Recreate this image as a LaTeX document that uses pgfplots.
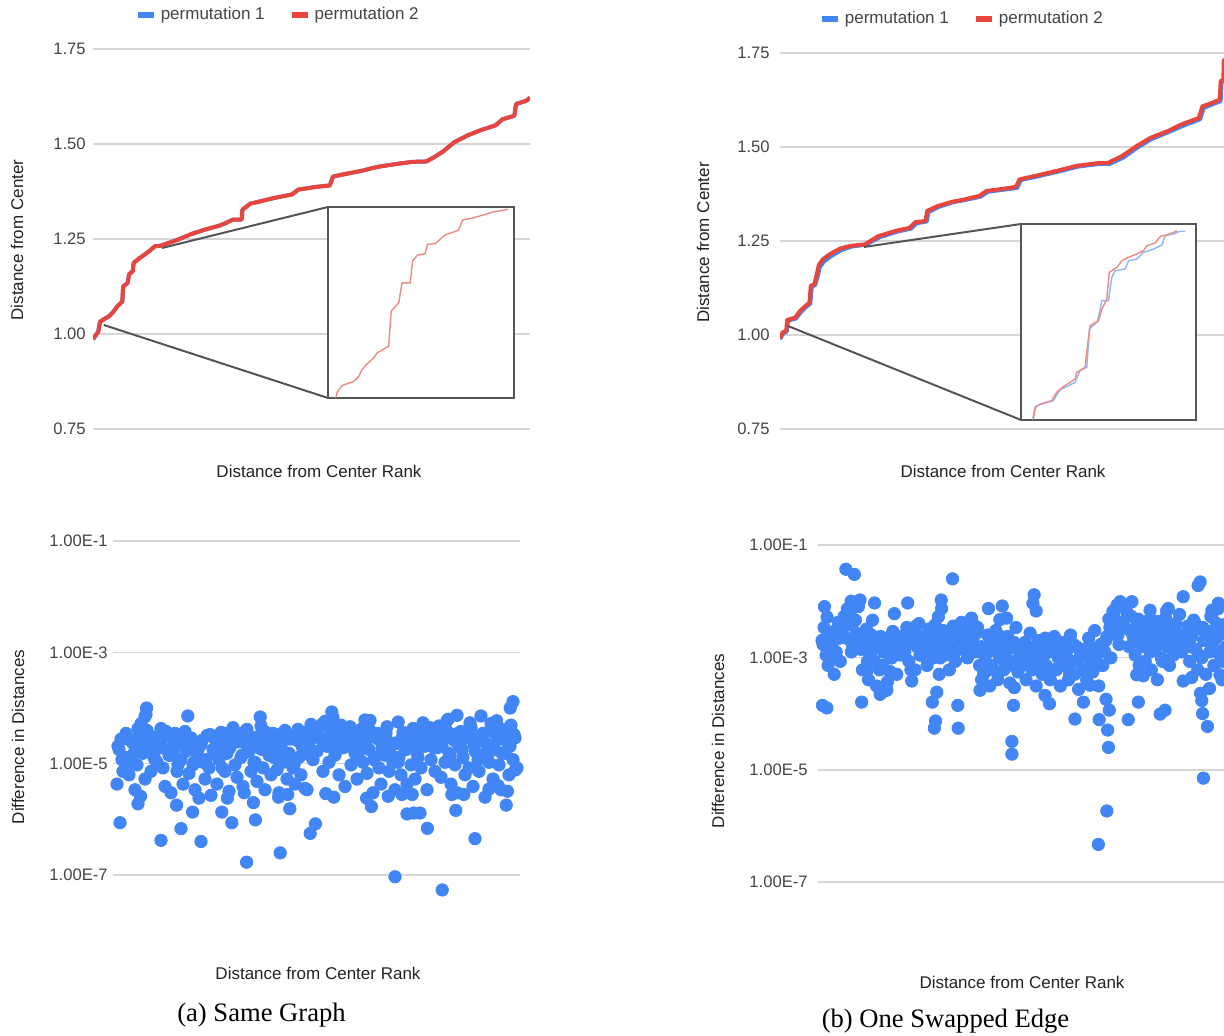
\documentclass[border=0pt]{standalone}
\usepackage{fontspec}
\setmainfont{Liberation Sans}
\newfontfamily\capfont{Liberation Serif}
\usepackage{pgfplots}
\pgfplotsset{compat=1.18}
\definecolor{gblue}{HTML}{4285F4}
\definecolor{gred}{HTML}{E8453C}
\definecolor{gridc}{HTML}{D6D6D6}
\definecolor{tickc}{HTML}{444444}
\definecolor{titlec}{HTML}{222222}
\definecolor{boxc}{HTML}{555555}
\definecolor{ired}{HTML}{EE8A84}
\definecolor{iblue}{HTML}{8FB6F8}
\pgfplotsset{
  gbase/.style={
    scale only axis, anchor=south west,
    axis line style={draw=none},
    major tick length=0pt,
    xtick=\empty,
    ymajorgrids, grid style={gridc, line width=0.8pt},
    tick label style={font=\fontsize{8.3}{10}\selectfont, text=tickc, /pgf/number format/assume math mode=true},
  },
  linebase/.style={
    gbase, xmin=0, xmax=100, ymin=0.75, ymax=1.75,
    ytick={0.75,1,1.25,1.5,1.75},
    yticklabel style={/pgf/number format/fixed, /pgf/number format/fixed zerofill, /pgf/number format/precision=2},
    legend columns=2,
    legend image code/.code={\draw[##1, line width=3pt] (0pt,0pt) -- (8pt,0pt);},
    legend style={draw=none, fill=none, font=\fontsize{8.5}{10}\selectfont, text=tickc,
      /tikz/every even column/.append style={column sep=10pt}},
  },
  scatbase/.style={
    gbase, ymin=1e-8, ymax=1e-1, clip=false,
    ytick={1e-7,1e-5,1e-3,1e-1},
    yticklabels={1.00E-7,1.00E-5,1.00E-3,1.00E-1},
  },
  inset/.style={
    scale only axis, anchor=south west, xmin=0, xmax=1, ymin=0, ymax=1,
    ticks=none, axis background/.style={fill=white},
    axis line style={boxc, line width=1.2pt},
  },
  dots/.style={only marks, mark=*, mark size=3.1pt, gblue},
}
\begin{document}
\begin{tikzpicture}
\path[use as bounding box] (0,0) rectangle (612pt,518pt);

% ---------------- top left ----------------
\begin{axis}[linebase, at={(46.5pt,303.5pt)}, width=218.5pt, height=190pt,
  yticklabel style={inner sep=0pt, xshift=-3.5pt},
  legend style={at={(axis description cs:0.425,1.0895)}, anchor=center}]
\addplot[gblue, line width=2pt, line join=round] coordinates {
(0,0.986) (1.2,1.006) (1.6,1.032) (2.8,1.041) (3.6,1.046) (4.7,1.059) (5.5,1.072) (6.7,1.085) (6.9,1.125) (7.9,1.134) (8.3,1.158) (9.1,1.165) (9.3,1.187) (10.7,1.200) (12.3,1.213) (14.2,1.231) (15.4,1.232) (19.4,1.248) (22.5,1.263) (25.7,1.275) (28.9,1.285) (30.4,1.292) (32.0,1.301) (34.0,1.301) (34.2,1.327) (36.0,1.343) (38.3,1.349) (41.5,1.358) (45.5,1.367) (47.0,1.380) (51.0,1.387) (54.2,1.391) (54.9,1.414) (57.3,1.420) (61.3,1.429) (65.2,1.440) (69.2,1.447) (73.1,1.453) (76.3,1.454) (77.9,1.464) (80.2,1.481) (82.6,1.504) (85.8,1.523) (88.9,1.537) (92.1,1.549) (93.7,1.565) (96.4,1.574) (96.8,1.605) (99.2,1.614) (100,1.622)};
\addlegendentry{permutation 1}
\addplot[gred, line width=2pt, line join=round] coordinates {
(0,0.986) (1.2,1.006) (1.6,1.032) (2.8,1.041) (3.6,1.046) (4.7,1.059) (5.5,1.072) (6.7,1.085) (6.9,1.125) (7.9,1.134) (8.3,1.158) (9.1,1.165) (9.3,1.187) (10.7,1.200) (12.3,1.213) (14.2,1.231) (15.4,1.232) (19.4,1.248) (22.5,1.263) (25.7,1.275) (28.9,1.285) (30.4,1.292) (32.0,1.301) (34.0,1.301) (34.2,1.327) (36.0,1.343) (38.3,1.349) (41.5,1.358) (45.5,1.367) (47.0,1.380) (51.0,1.387) (54.2,1.391) (54.9,1.414) (57.3,1.420) (61.3,1.429) (65.2,1.440) (69.2,1.447) (73.1,1.453) (76.3,1.454) (77.9,1.464) (80.2,1.481) (82.6,1.504) (85.8,1.523) (88.9,1.537) (92.1,1.549) (93.7,1.565) (96.4,1.574) (96.8,1.605) (99.2,1.614) (100,1.622)};
\addlegendentry{permutation 2}
\end{axis}
\draw[boxc, line width=1pt] (81pt,394pt) -- (164pt,414.5pt);
\draw[boxc, line width=1pt] (51.9pt,355.5pt) -- (164pt,319pt);
\begin{axis}[inset, at={(164pt,319pt)}, width=93pt, height=95.5pt]
\addplot[ired, line width=0.7pt] coordinates {
(0.041,0) (0.050,0.031) (0.077,0.066) (0.139,0.087) (0.166,0.114) (0.183,0.149) (0.210,0.178) (0.246,0.210) (0.264,0.236) (0.326,0.271) (0.340,0.455) (0.380,0.498) (0.398,0.603) (0.442,0.603) (0.455,0.717) (0.481,0.748) (0.522,0.755) (0.535,0.804) (0.576,0.808) (0.629,0.853) (0.701,0.878) (0.724,0.932) (0.772,0.941) (0.834,0.958) (0.888,0.974) (0.968,0.988)};
\end{axis}

% ---------------- top right ----------------
\begin{axis}[linebase, at={(390pt,303.5pt)}, width=223pt, height=188pt,
  yticklabel style={inner sep=0pt, xshift=-5pt},
  legend style={at={(axis description cs:0.41,1.0904)}, anchor=center}]
\addplot[gblue, line width=2pt, line join=round] coordinates {
(0,0.989) (0.7,1.004) (1.5,1.009) (1.8,1.038) (3.6,1.044) (4.7,1.061) (5.9,1.075) (6.8,1.083) (7.1,1.128) (7.9,1.133) (8.5,1.158) (8.9,1.180) (9.9,1.196) (11.5,1.210) (13.8,1.226) (16.0,1.235) (19.2,1.240) (22.4,1.260) (26.3,1.275) (29.4,1.283) (30.6,1.297) (32.9,1.302) (33.3,1.327) (35.7,1.341) (38.8,1.353) (41.9,1.360) (45.0,1.368) (46.6,1.381) (50.5,1.387) (53.2,1.391) (54.0,1.412) (57.5,1.421) (62.2,1.434) (66.9,1.448) (71.6,1.455) (73.9,1.455) (77.0,1.472) (80.2,1.499) (83.3,1.521) (87.2,1.540) (90.3,1.556) (94.2,1.574) (95.0,1.604) (96.9,1.613) (98.8,1.622) (99.0,1.672) (99.6,1.677) (99.7,1.729) (100,1.731)};
\addlegendentry{permutation 1}
\addplot[gred, line width=2pt, line join=round] coordinates {
(0,0.991) (0.6,1.007) (1.4,1.011) (1.6,1.040) (3.4,1.046) (4.5,1.064) (5.7,1.077) (6.6,1.086) (6.9,1.131) (7.7,1.135) (8.3,1.164) (8.7,1.186) (9.6,1.201) (11.2,1.215) (13.5,1.230) (15.8,1.237) (19.0,1.241) (22.1,1.263) (26.0,1.277) (29.1,1.285) (30.3,1.300) (32.6,1.303) (33.0,1.330) (35.4,1.343) (38.5,1.354) (41.6,1.361) (44.7,1.370) (46.3,1.383) (50.2,1.389) (52.9,1.394) (53.7,1.414) (57.2,1.423) (61.9,1.436) (66.6,1.450) (71.3,1.457) (73.6,1.458) (76.7,1.476) (79.9,1.502) (83.0,1.524) (86.9,1.542) (90.0,1.560) (93.9,1.577) (94.7,1.608) (96.6,1.616) (98.6,1.626) (98.8,1.675) (99.4,1.679) (99.5,1.731) (100,1.732)};
\addlegendentry{permutation 2}
\end{axis}
\draw[boxc, line width=1pt] (432pt,394.5pt) -- (510.5pt,406pt);
\draw[boxc, line width=1pt] (394pt,355pt) -- (510.5pt,308pt);
\begin{axis}[inset, at={(510.5pt,308pt)}, width=87.5pt, height=98pt]
\addplot[iblue, line width=0.7pt] coordinates {
(0.067,0.002) (0.074,0.039) (0.090,0.073) (0.185,0.099) (0.223,0.155) (0.271,0.175) (0.309,0.192) (0.338,0.252) (0.376,0.269) (0.391,0.464) (0.437,0.502) (0.462,0.609) (0.500,0.609) (0.519,0.728) (0.538,0.762) (0.595,0.770) (0.615,0.813) (0.662,0.821) (0.700,0.855) (0.758,0.872) (0.805,0.893) (0.824,0.940) (0.872,0.949) (0.901,0.961) (0.939,0.963)};
\addplot[ired, line width=0.7pt] coordinates {
(0.071,0.005) (0.080,0.065) (0.109,0.080) (0.176,0.099) (0.204,0.141) (0.242,0.170) (0.271,0.187) (0.309,0.209) (0.319,0.243) (0.366,0.269) (0.380,0.379) (0.395,0.481) (0.443,0.507) (0.462,0.566) (0.490,0.617) (0.504,0.753) (0.548,0.779) (0.576,0.813) (0.615,0.830) (0.662,0.847) (0.700,0.864) (0.719,0.889) (0.767,0.903) (0.796,0.937) (0.834,0.944) (0.872,0.957) (0.891,0.966)};
\end{axis}

% ---------------- bottom left ----------------
\begin{axis}[ymode=log, scatbase, at={(56.5pt,52.65pt)}, width=203.5pt, height=194.85pt,
  xmin=-1, xmax=100.75, yticklabel style={inner sep=0pt, xshift=-2.5pt}]
\addplot[dots] coordinates {
(0,0.43e-5)(0.5,1.8e-5)(1,2.76e-5)(1.5,0.73e-5)(2,1.30e-5)(2.5,2.90e-5)(3,0.63e-5)(3.5,1.06e-5)(4,2.33e-5)(4.5,0.34e-5)
(5,0.95e-5)(5.5,3.34e-5)(6,5.26e-5)(6.5,1.54e-5)(7,0.53e-5)(7.5,3.96e-5)(8,1.93e-5)(8.5,0.73e-5)(9,2.62e-5)(9.5,1.18e-5)
(10,1.06e-5)(10.5,2.06e-5)(11,4.28e-5)(11.5,0.84e-5)(12,0.39e-5)(12.5,3.05e-5)(13,1.42e-5)(13.5,0.30e-5)(14,1.67e-5)(14.5,3.5e-5)
(15,0.73e-5)(15.5,2.33e-5)(16,1.18e-5)(16.5,0.43e-5)(17,3.8e-5)(17.5,1.93e-5)(18,0.67e-5)(18.5,2.90e-5)(19,0.95e-5)(19.5,0.34e-5)
(20,1.54e-5)(20.5,0.24e-5)(21,2.2e-5)(21.5,1.06e-5)(22,0.53e-5)(22.5,3.19e-5)(23,0.84e-5)(23.5,0.27e-5)(24,1.8e-5)(24.5,2.76e-5)
(25,0.43e-5)(25.5,1.18e-5)(26,3.65e-5)(26.5,2.06e-5)(27,0.73e-5)(27.5,1.54e-5)(28,0.32e-5)(28.5,2.62e-5)(29,4.43e-5)(29.5,0.95e-5)
(30,0.57e-5)(30.5,3.34e-5)(31,1.30e-5)(31.5,0.39e-5)(32,2.33e-5)(32.5,4.12e-5)(33,1.67e-5)(33.5,0.73e-5)(34,2.90e-5)(34.5,1.06e-5)
(35,0.48e-5)(35.5,1.93e-5)(36,4.76e-5)(36.5,0.84e-5)(37,0.34e-5)(37.5,2.47e-5)(38,1.42e-5)(38.5,0.63e-5)(39,3.5e-5)(39.5,1.8e-5)
(40,0.78e-5)(40.5,0.30e-5)(41,2.06e-5)(41.5,1.06e-5)(42,3.96e-5)(42.5,0.53e-5)(43,1.54e-5)(43.5,3.05e-5)(44,0.84e-5)(44.5,0.43e-5)
(45,2.62e-5)(45.5,1.30e-5)(46,0.63e-5)(46.5,3.65e-5)(47,1.93e-5)(47.5,0.34e-5)(48,2.33e-5)(48.5,5.09e-5)(49,1.18e-5)(49.5,3.19e-5)
(50,1.67e-5)(50.5,4.43e-5)(51,2.76e-5)(51.5,0.73e-5)(52,5.77e-5)(52.5,2.06e-5)(53,1.06e-5)(53.5,3.5e-5)(54,6.8e-5)(54.5,1.42e-5)
(55,2.90e-5)(55.5,0.63e-5)(56,4.93e-5)(56.5,1.93e-5)(57,0.39e-5)(57.5,2.47e-5)(58,3.96e-5)(58.5,0.95e-5)(59,3.34e-5)(59.5,1.54e-5)
(60,0.53e-5)(60.5,2.2e-5)(61,4.12e-5)(61.5,1.06e-5)(62,6.1e-5)(62.5,0.67e-5)(63,1.8e-5)(63.5,3.05e-5)(64,0.30e-5)(64.5,1.30e-5)
(65,3.5e-5)(65.5,0.84e-5)(66,0.43e-5)(66.5,2.62e-5)(67,1.42e-5)(67.5,4.6e-5)(68,0.73e-5)(68.5,2.06e-5)(69,1.06e-5)(69.5,0.34e-5)
(70,2.33e-5)(70.5,1.30e-5)(71,0.63e-5)(71.5,3.65e-5)(72,1.8e-5)(72.5,0.43e-5)(73,2.76e-5)(73.5,0.95e-5)(74,4.28e-5)(74.5,0.53e-5)
(75,1.54e-5)(75.5,3.34e-5)(76,0.84e-5)(76.5,5.42e-5)(77,2.06e-5)(77.5,0.34e-5)(78,3.96e-5)(78.5,1.18e-5)(79,2.90e-5)(79.5,0.73e-5)
(80,1.93e-5)(80.5,4.76e-5)(81,0.57e-5)(81.5,2.62e-5)(82,1.06e-5)(82.5,5.94e-5)(83,1.54e-5)(83.5,0.43e-5)(84,3.34e-5)(84.5,0.95e-5)
(85,0.30e-5)(85.5,2.06e-5)(86,3.8e-5)(86.5,1.30e-5)(87,0.63e-5)(87.5,3.05e-5)(88,0.84e-5)(88.5,4.43e-5)(89,0.39e-5)(89.5,1.67e-5)
(90,2.76e-5)(90.5,0.73e-5)(91,1.42e-5)(91.5,3.5e-5)(92,0.25e-5)(92.5,2.2e-5)(93,1.06e-5)(93.5,5.26e-5)(94,0.53e-5)(94.5,1.8e-5)
(95,3.19e-5)(95.5,0.95e-5)(96,0.34e-5)(96.5,4.12e-5)(97,1.54e-5)(97.5,2.47e-5)(98,0.63e-5)(98.5,4.93e-5)(99,1.18e-5)(99.5,2.90e-5)(100,0.84e-5)
(0.25,2.06e-5)(1.25,1.18e-5)(2.25,3.5e-5)(3.25,2.62e-5)(4.25,1.54e-5)(5.25,4.28e-5)(6.25,2.2e-5)(7.25,7.7e-5)(8.25,3.19e-5)(9.25,1.30e-5)
(10.25,2.90e-5)(11.25,1.93e-5)(12.25,3.8e-5)(13.25,1.42e-5)(14.25,2.33e-5)(15.25,0.95e-5)(16.25,3.34e-5)(17.25,1.67e-5)(18.25,2.76e-5)(19.25,1.06e-5)
(20.25,1.8e-5)(21.25,2.62e-5)(22.25,1.18e-5)(23.25,3.34e-5)(24.25,1.54e-5)(25.25,2.33e-5)(26.25,0.84e-5)(27.25,3.5e-5)(28.25,1.93e-5)(29.25,2.90e-5)
(30.25,2.47e-5)(31.25,1.42e-5)(32.25,3.96e-5)(33.25,2.06e-5)(34.25,1.06e-5)(35.25,3.05e-5)(36.25,1.8e-5)(37.25,3.65e-5)(38.25,2.62e-5)(39.25,1.30e-5)
(40.25,2.33e-5)(41.25,3.5e-5)(42.25,1.54e-5)(43.25,2.76e-5)(44.25,0.95e-5)(45.25,4.12e-5)(46.25,2.06e-5)(47.25,3.19e-5)(48.25,1.42e-5)(49.25,3.8e-5)
(50.25,3.34e-5)(51.25,5.09e-5)(52.25,2.33e-5)(53.25,4.28e-5)(54.25,1.8e-5)(55.25,2.90e-5)(56.25,3.65e-5)(57.25,2.06e-5)(58.25,4.6e-5)(59.25,2.62e-5)
(60.25,1.42e-5)(61.25,3.19e-5)(62.25,2.06e-5)(63.25,3.96e-5)(64.25,1.18e-5)(65.25,2.76e-5)(66.25,1.93e-5)(67.25,3.5e-5)(68.25,1.54e-5)(69.25,2.33e-5)
(70.25,1.06e-5)(71.25,2.90e-5)(72.25,1.8e-5)(73.25,3.5e-5)(74.25,2.2e-5)(75.25,1.30e-5)(76.25,3.34e-5)(77.25,2.47e-5)(78.25,4.43e-5)(79.25,1.93e-5)
(80.25,3.05e-5)(81.25,2.06e-5)(82.25,4.12e-5)(83.25,1.42e-5)(84.25,2.62e-5)(85.25,3.5e-5)(86.25,1.8e-5)(87.25,2.90e-5)(88.25,5.42e-5)(89.25,2.2e-5)
(90.25,1.18e-5)(91.25,3.34e-5)(92.25,2.33e-5)(93.25,1.67e-5)(94.25,3.65e-5)(95.25,2.76e-5)(96.25,1.54e-5)(97.25,3.96e-5)(98.25,2.06e-5)(99.25,3.34e-5)
(0.75,8.7e-7)(5.25,1.9e-6)(5.9,2.6e-6)(11,4.2e-7)(14.9,1.8e-6)(16,6.8e-7)(18.9,1.35e-6)(21,4e-7)(28.7,8.7e-7)(26.2,1.35e-6)(27.6,2.4e-6)(32.4,1.7e-7)(34.6,9.8e-7)(31.8,3e-6)(34.1,2e-6)(40.8,2.5e-7)(40.4,2.5e-6)(42.7,2.8e-6)(43.2,1.55e-6)(48.3,5.6e-7)(49.6,8.3e-7)(47,3.6e-6)(52.2,2.9e-6)(54.2,2.5e-6)(62.4,2.4e-6)(63.6,1.7e-6)(69.5,9.3e-8)(67.8,2.6e-6)(71.2,2.8e-6)(72.5,1.25e-6)(74.2,1.3e-6)(75.75,1.3e-6)(73.8,2.8e-6)(77.6,6.9e-7)(81.3,5.4e-8)(83.7,2.8e-6)(84.7,1.45e-6)(86.7,2.8e-6)(89.5,4.5e-7)(93,3.5e-6)(95.3,4e-6)(97.3,1.8e-6)(97.6,3.2e-6)(99.6,7.7e-6)
(7.4,1e-4)(7,7e-5)(17.7,7.2e-5)(35.8,6.9e-5)(53.7,8.5e-5)(99,1.3e-4)(98.3,1e-4)(85,7.4e-5)(91,7.2e-5)(63.25,6e-5)(70.3,5.6e-5)(94.9,5.9e-5)(82.8,6.3e-5)};
\end{axis}

% ---------------- bottom right ----------------
\begin{axis}[ymode=log, scatbase, at={(409pt,48.8pt)}, width=204pt, height=196.7pt,
  xmin=-1, xmax=100, yticklabel style={inner sep=0pt, xshift=-5pt}]
\addplot[dots] coordinates {
(0,2.0e-3)(0.5,3.4e-3)(1,1.1e-3)(1.5,0.72e-3)(2,2.5e-3)(2.5,1.55e-3)(3,0.5e-3)(3.5,1.25e-3)(4,4.2e-3)(4.5,0.85e-3)
(5,3.0e-3)(5.5,5.4e-3)(6,2.2e-3)(6.5,3.8e-3)(7,6.6e-3)(7.5,1.7e-3)(8,4.4e-3)(8.5,2.7e-3)(9,8.0e-3)(9.5,1.4e-3)
(10,0.6e-3)(10.5,1.85e-3)(11,3.2e-3)(11.5,0.4e-3)(12,1.1e-3)(12.5,4.6e-3)(13,0.85e-3)(13.5,0.31e-3)(14,1.55e-3)(14.5,2.35e-3)
(15,0.72e-3)(15.5,1.25e-3)(16,0.27e-3)(16.5,2.0e-3)(17,0.98e-3)(17.5,2.9e-3)(18,1.4e-3)(18.5,0.5e-3)(19,1.7e-3)(19.5,1.1e-3)
(20,2.2e-3)(20.5,1.25e-3)(21,3.4e-3)(21.5,0.85e-3)(22,1.85e-3)(22.5,2.7e-3)(23,0.6e-3)(23.5,1.55e-3)(24,4.0e-3)(24.5,1.1e-3)
(25,2.35e-3)(25.5,1.4e-3)(26,0.72e-3)(26.5,3.2e-3)(27,1.7e-3)(27.5,0.98e-3)(28,3.8e-3)(28.5,1.25e-3)(29,0.5e-3)(29.5,2.0e-3)
(30,3.0e-3)(30.5,1.1e-3)(31,2.2e-3)(31.5,0.6e-3)(32,1.55e-3)(32.5,3.6e-3)(33,0.85e-3)(33.5,2.7e-3)(34,1.4e-3)(34.5,4.2e-3)
(35,1.7e-3)(35.5,3.2e-3)(36,0.98e-3)(36.5,2.0e-3)(37,4.8e-3)(37.5,2.35e-3)(38,1.25e-3)(38.5,3.4e-3)(39,0.72e-3)(39.5,1.55e-3)
(40,0.5e-3)(40.5,1.1e-3)(41,2.5e-3)(41.5,0.31e-3)(42,0.72e-3)(42.5,1.7e-3)(43,3.0e-3)(43.5,0.4e-3)(44,0.98e-3)(44.5,2.0e-3)
(45,0.6e-3)(45.5,1.25e-3)(46,2.35e-3)(46.5,0.35e-3)(47,0.85e-3)(47.5,1.85e-3)(48,3.4e-3)(48.5,0.55e-3)(49,1.4e-3)(49.5,0.72e-3)
(50,0.98e-3)(50.5,0.4e-3)(51,1.55e-3)(51.5,2.7e-3)(52,0.6e-3)(52.5,1.25e-3)(53,0.31e-3)(53.5,2.0e-3)(54,0.85e-3)(54.5,0.5e-3)
(55,1.1e-3)(55.5,0.72e-3)(56,1.7e-3)(56.5,0.4e-3)(57,1.4e-3)(57.5,2.35e-3)(58,0.6e-3)(58.5,0.98e-3)(59,0.31e-3)(59.5,1.85e-3)
(60,0.72e-3)(60.5,1.25e-3)(61,0.4e-3)(61.5,2.5e-3)(62,0.85e-3)(62.5,0.5e-3)(63,1.55e-3)(63.5,0.27e-3)(64,1.1e-3)(64.5,0.6e-3)
(65,1.4e-3)(65.5,0.4e-3)(66,2.2e-3)(66.5,0.85e-3)(67,0.55e-3)(67.5,3.0e-3)(68,1.1e-3)(68.5,0.31e-3)(69,1.7e-3)(69.5,0.72e-3)
(70,1.25e-3)(70.5,2.35e-3)(71,4.8e-3)(71.5,0.98e-3)(72,6.6e-3)(72.5,3.0e-3)(73,8.5e-3)(73.5,1.7e-3)(74,4.2e-3)(74.5,8.0e-3)
(75,3.4e-3)(75.5,6.2e-3)(76,1.55e-3)(76.5,5.4e-3)(77,2.35e-3)(77.5,1.1e-3)(78,3.8e-3)(78.5,0.72e-3)(79,1.7e-3)(79.5,2.9e-3)
(80,0.85e-3)(80.5,4.4e-3)(81,2.0e-3)(81.5,0.6e-3)(82,3.2e-3)(82.5,1.4e-3)(83,0.4e-3)(83.5,2.2e-3)(84,0.98e-3)(84.5,3.4e-3)
(85,5.0e-3)(85.5,1.55e-3)(86,0.72e-3)(86.5,2.7e-3)(87,1.1e-3)(87.5,4.0e-3)(88,1.85e-3)(88.5,5.8e-3)(89,1.25e-3)(89.5,2.5e-3)
(90,1.7e-3)(90.5,3.6e-3)(91,0.85e-3)(91.5,2.35e-3)(92,4.6e-3)(92.5,1.4e-3)(93,0.6e-3)(93.5,3.2e-3)(94,0.98e-3)(94.5,2.0e-3)
(95,0.5e-3)(95.5,2.9e-3)(96,1.25e-3)(96.5,5.2e-3)(97,0.72e-3)(97.5,2.2e-3)(98,7.3e-3)(98.5,1.1e-3)(99,0.4e-3)(99.5,3.8e-3)(100,1.55e-3)
(0.25,1.7e-3)(1.25,5.2e-3)(2.25,0.98e-3)(3.25,3.0e-3)(4.25,2.2e-3)(5.25,3.8e-3)(6.25,7.3e-3)(7.25,1.25e-3)(8.25,4.6e-3)(9.25,2.35e-3)
(10.25,1.4e-3)(11.25,0.85e-3)(12.25,2.5e-3)(13.25,1.7e-3)(14.25,0.6e-3)(15.25,1.25e-3)(16.25,2.2e-3)(17.25,0.98e-3)(18.25,1.55e-3)(19.25,2.35e-3)
(20.25,1.25e-3)(21.25,2.9e-3)(22.25,1.85e-3)(23.25,3.6e-3)(24.25,1.1e-3)(25.25,2.2e-3)(26.25,1.55e-3)(27.25,3.0e-3)(28.25,2.0e-3)(29.25,0.98e-3)
(30.25,1.7e-3)(31.25,2.5e-3)(32.25,1.1e-3)(33.25,3.2e-3)(34.25,2.0e-3)(35.25,1.4e-3)(36.25,4.0e-3)(37.25,1.85e-3)(38.25,2.7e-3)(39.25,1.25e-3)
(40.25,0.85e-3)(41.25,1.55e-3)(42.25,0.6e-3)(43.25,1.25e-3)(44.25,2.35e-3)(45.25,0.98e-3)(46.25,1.7e-3)(47.25,0.72e-3)(48.25,1.4e-3)(49.25,1.1e-3)
(50.25,1.85e-3)(51.25,1.1e-3)(52.25,0.72e-3)(53.25,1.55e-3)(54.25,0.98e-3)(55.25,2.2e-3)(56.25,1.25e-3)(57.25,0.6e-3)(58.25,1.4e-3)(59.25,0.85e-3)
(60.25,0.98e-3)(61.25,0.5e-3)(62.25,1.7e-3)(63.25,0.85e-3)(64.25,1.25e-3)(65.25,0.6e-3)(66.25,1.55e-3)(67.25,1.1e-3)(68.25,0.72e-3)(69.25,1.4e-3)
(70.25,2.0e-3)(71.25,3.4e-3)(72.25,6.0e-3)(73.25,2.5e-3)(74.25,4.2e-3)(75.25,7.5e-3)(76.25,3.0e-3)(77.25,2.2e-3)(78.25,4.8e-3)(79.25,1.55e-3)
(80.25,2.35e-3)(81.25,1.25e-3)(82.25,3.8e-3)(83.25,1.7e-3)(84.25,0.85e-3)(85.25,2.9e-3)(86.25,1.85e-3)(87.25,3.4e-3)(88.25,1.4e-3)(89.25,2.2e-3)
(90.25,2.7e-3)(91.25,1.55e-3)(92.25,4.2e-3)(93.25,1.1e-3)(94.25,3.4e-3)(95.25,2.0e-3)(96.25,5.4e-3)(97.25,1.4e-3)(98.25,2.5e-3)(99.25,0.85e-3)
(5.9,3.7e-2)(8,3e-2)(32.3,2.5e-2)(0.6,8e-3)(9.4,1.05e-2)(13,9.3e-3)(7.2,1e-2)(21.2,9.3e-3)(17.9,6e-3)(29.5,1.05e-2)(29.6,7.4e-3)(28.8,5.3e-3)(41.2,7.4e-3)(44.6,8.2e-3)(45.7,5e-3)(44,4.7e-3)(37,5e-3)(37.9,3.6e-3)
(0.1,1.4e-4)(1.2,1.26e-4)(9.8,1.6e-4)(14.4,2.2e-4)(16,2.6e-4)(11.1,5.7e-4)(11.3,8.1e-4)(16.2,3.7e-4)(16.8,5.6e-4)(22.2,3.8e-4)(22,6e-4)(27.3,1.6e-4)(28.4,2.4e-4)(27.8,5.5e-5)(28.1,7.4e-5)(33.6,1.4e-4)(33.7,5.5e-5)(39.1,2.6e-4)(39.5,4e-4)(40.3,6e-4)(43.6,5.2e-4)(45.3,7.6e-4)(47,3.2e-5)(47,1.9e-5)(47.4,1.4e-4)(47.6,2.9e-4)
(52.5,1.3e-2)(52.2,9.2e-3)(53,6.7e-3)(68.4,4.7e-7)(70.5,1.85e-6)(70.9,2.5e-5)(70.7,5.1e-5)(71.1,1.15e-4)(70.3,1.8e-4)(68.6,7.8e-5)(62.6,8e-5)(75.8,7.8e-5)(78.3,1.6e-4)(64.7,1.6e-4)(66.3,3.2e-4)(55.2,2.1e-4)(56.3,1.5e-4)(83.7,9.8e-5)(84.9,1.15e-4)(89.4,1.2e-2)(93.1,1.9e-2)(93.6,2.2e-2)(85.7,7.4e-3)(85.3,6.7e-3)(94.4,7.1e-6)(94.2,1e-4)(95.4,5.9e-5)(94,1.7e-4)(93.7,2.3e-4)(95.9,2.8e-4)(97.7,4e-3)(98.1,9.2e-3)(96.5,6.9e-3)(73.8,9.8e-3)(76.7,9.8e-3)(71.7,5e-3)(71.3,2.5e-3)(81.2,6.9e-3)(82.8,4.4e-3)(77.9,4.9e-4)(79.5,4.7e-4)(89.4,3.8e-4)(91.5,4.4e-4)(98.5,4.9e-4)};
\end{axis}

% ---------------- titles ----------------
\begin{scope}[every node/.style={font=\fontsize{8.5}{10}\selectfont, text=titlec, inner sep=0pt}]
\node[rotate=90] at (8.5pt,398pt) {Distance from Center};
\node at (159.5pt,282.5pt) {Distance from Center Rank};
\node[rotate=90] at (351.5pt,396.75pt) {Distance from Center};
\node at (501.5pt,282.5pt) {Distance from Center Rank};
\node[rotate=90] at (9pt,149.5pt) {Difference in Distances};
\node at (159pt,31.5pt) {Distance from Center Rank};
\node[rotate=90] at (359pt,147.5pt) {Difference in Distances};
\node at (511pt,27pt) {Distance from Center Rank};
\end{scope}
\node[font=\capfont\fontsize{13.3}{15}\selectfont, inner sep=0pt] at (130.75pt,10.5pt) {(a) Same Graph};
\node[font=\capfont\fontsize{13.3}{15}\selectfont, inner sep=0pt] at (472.75pt,7.5pt) {(b) One Swapped Edge};
\end{tikzpicture}
\end{document}
